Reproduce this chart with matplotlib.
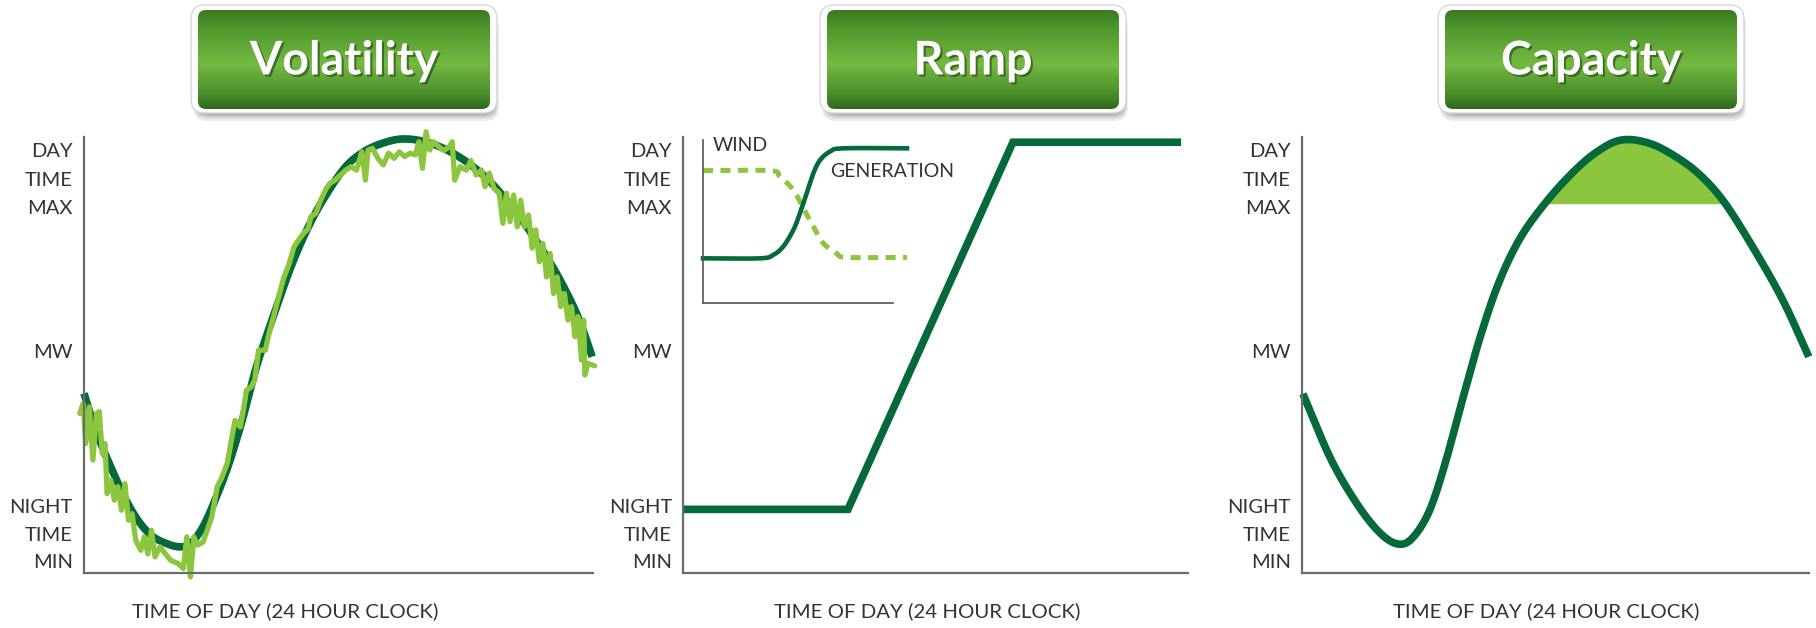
import numpy as np
import matplotlib
matplotlib.use("Agg")
import matplotlib.pyplot as plt
from matplotlib.patches import FancyBboxPatch
from matplotlib.colors import LinearSegmentedColormap
import matplotlib.patheffects as pe

# ---- data (x in hours of day, y as share of the MW range) ----
titles = ["Volatility", "Ramp", "Capacity"]
x_label = "TIME OF DAY (24 HOUR CLOCK)"
top_labels = ["DAY", "TIME", "MAX"]
mid_label = "MW"
bottom_labels = ["NIGHT", "TIME", "MIN"]

# Volatility: smooth load curve
vol_x = [0, 0.55, 1.40, 2.24, 3.08, 3.92, 4.60, 5.10, 5.61, 6.11, 6.78, 7.46,
         8.13, 8.97, 9.82, 10.66, 11.50, 12.34, 13.18, 14.03, 14.87, 15.71,
         16.55, 17.39, 18.24, 19.08, 19.92, 20.76, 21.61, 22.45, 23.29, 23.96]
vol_y = [0.412, 0.328, 0.228, 0.144, 0.090, 0.067, 0.060, 0.071, 0.106, 0.159,
         0.243, 0.350, 0.473, 0.595, 0.710, 0.802, 0.874, 0.932, 0.966, 0.985,
         0.995, 0.993, 0.982, 0.963, 0.936, 0.901, 0.855, 0.802, 0.741, 0.672,
         0.588, 0.496]

# Volatility: noisy wind-affected curve
noisy_x = [-0.20, -0.04, 0.08, 0.25, 0.42, 0.59, 0.72, 0.86, 0.99, 1.09, 1.26,
           1.43, 1.60, 1.77, 1.93, 2.10, 2.27, 2.44, 2.68, 2.84, 3.01, 3.18,
           3.35, 3.58, 3.84, 4.09, 4.43, 4.68, 4.85, 5.02, 5.18, 5.35, 5.61,
           5.81, 6.03, 6.28, 6.48, 6.75, 6.95, 7.12, 7.37, 7.54, 7.66, 7.88,
           8.05, 8.23, 8.55, 8.72, 8.94, 9.18, 9.41, 9.65, 9.90, 10.12, 10.35,
           10.57, 10.69, 10.93, 11.16, 11.42, 11.60, 11.84, 12.09, 12.34,
           12.59, 12.85, 13.10, 13.27, 13.39, 13.60, 13.86, 14.11, 14.36,
           14.62, 14.87, 15.12, 15.37, 15.63, 15.79, 15.96, 16.13, 16.30,
           16.47, 16.72, 16.97, 17.23, 17.36, 17.48, 17.73, 18.03, 18.24,
           18.49, 18.74, 18.91, 19.11, 19.33, 19.58, 19.75, 19.92, 20.09,
           20.26, 20.43, 20.59, 20.76, 20.96, 21.13, 21.30, 21.47, 21.64,
           21.81, 21.98, 22.14, 22.31, 22.48, 22.65, 22.82, 22.99, 23.15,
           23.29, 23.46, 23.56, 23.62, 23.76, 24.08]
noisy_y = [0.366, 0.389, 0.297, 0.381, 0.259, 0.366, 0.370, 0.274, 0.297, 0.182,
           0.213, 0.167, 0.198, 0.144, 0.205, 0.121, 0.136, 0.075, 0.052, 0.083,
           0.044, 0.098, 0.037, 0.060, 0.044, 0.029, 0.022, 0.010, 0.083, -0.009,
           0.083, 0.064, 0.071, 0.098, 0.129, 0.198, 0.217, 0.251, 0.305, 0.350,
           0.335, 0.381, 0.419, 0.427, 0.442, 0.511, 0.511, 0.549, 0.588, 0.634,
           0.676, 0.706, 0.748, 0.764, 0.779, 0.790, 0.817, 0.825, 0.855, 0.882,
           0.894, 0.901, 0.913, 0.924, 0.932, 0.924, 0.966, 0.901, 0.970, 0.974,
           0.951, 0.936, 0.963, 0.951, 0.966, 0.955, 0.963, 0.959, 0.989, 0.928,
           1.012, 0.970, 0.989, 0.978, 0.969, 0.978, 0.989, 0.901, 0.932, 0.924,
           0.946, 0.913, 0.924, 0.886, 0.917, 0.882, 0.871, 0.802, 0.871, 0.806,
           0.867, 0.794, 0.855, 0.794, 0.821, 0.745, 0.787, 0.714, 0.756, 0.679,
           0.733, 0.641, 0.679, 0.611, 0.641, 0.580, 0.611, 0.542, 0.588, 0.488,
           0.580, 0.454, 0.481, 0.475]

# Ramp: net load ramp
ramp_x = [0, 7.84, 15.68, 23.67]
ramp_y = [0.146, 0.146, 0.988, 0.988]

# Ramp inset (share of inset width / height)
gen_x = [0, 0.279, 0.344, 0.393, 0.443, 0.475, 0.508, 0.541, 0.574, 0.623,
         0.688, 1.0]
gen_y = [0.274, 0.274, 0.295, 0.346, 0.448, 0.550, 0.673, 0.796, 0.877, 0.929,
         0.949, 0.949]
wind_x = [0, 0.328, 0.377, 0.443, 0.492, 0.541, 0.590, 0.655, 0.706, 1.0]
wind_y = [0.812, 0.812, 0.775, 0.693, 0.581, 0.468, 0.366, 0.304, 0.280, 0.280]

# Capacity: load curve and peak capacity level
cap_x = [0.04, 1.41, 2.78, 3.87, 4.70, 5.35, 6.06, 6.78, 7.60, 8.42, 9.30,
         10.29, 11.44, 12.70, 13.90, 15.11, 16.48, 17.85, 18.95, 20.04, 21.42,
         22.78, 23.99]
cap_y = [0.411, 0.257, 0.146, 0.084, 0.066, 0.087, 0.146, 0.252, 0.398, 0.539,
         0.664, 0.765, 0.844, 0.913, 0.964, 0.993, 0.985, 0.950, 0.908, 0.847,
         0.741, 0.624, 0.496]
cap_level = 0.847

DARK = "#05693a"
LIGHT = "#8cc63f"
AXIS = "#6b6b6b"
TEXT = "#333333"
FONT = ["Lato", "DejaVu Sans"]

W, H = 1816, 628
fig = plt.figure(figsize=(W / 100, H / 100), dpi=100)
fig.patch.set_facecolor("white")


def px_axes(left, top, right, bottom, zorder=1):
    return fig.add_axes([left / W, 1 - bottom / H, (right - left) / W, (bottom - top) / H],
                        zorder=zorder)


def smooth(x, y, n=16):
    # catmull-rom through the traced points, just for drawing
    x = np.asarray(x, float)
    y = np.asarray(y, float)
    px = np.concatenate([[2 * x[0] - x[1]], x, [2 * x[-1] - x[-2]]])
    py = np.concatenate([[2 * y[0] - y[1]], y, [2 * y[-1] - y[-2]]])
    t = np.linspace(0, 1, n, endpoint=False)[:, None]
    out = []
    for p in (px, py):
        p0, p1, p2, p3 = p[:-3], p[1:-2], p[2:-1], p[3:]
        seg = 0.5 * ((2 * p1) + (-p0 + p2) * t + (2 * p0 - 5 * p1 + 4 * p2 - p3) * t ** 2
                     + (-p0 + 3 * p1 - 3 * p2 + p3) * t ** 3)
        out.append(np.concatenate([seg.T.ravel(), [p[-2]]]))
    return out


def setup_panel(ax, xlab_pos):
    ax.set_xlim(0, 24)
    ax.set_ylim(0, 1)
    ax.set_xticks([])
    ax.set_yticks([])
    for s in ["top", "right"]:
        ax.spines[s].set_visible(False)
    for s in ["left", "bottom"]:
        ax.spines[s].set_color(AXIS)
        ax.spines[s].set_linewidth(1.6)
    ax.patch.set_alpha(0)
    kw = dict(transform=ax.transAxes, ha="right", va="center", fontsize=14.5,
              color=TEXT, family=FONT)
    for lab, yy in zip(top_labels, [0.966, 0.901, 0.837]):
        ax.text(-0.022, yy, lab, **kw)
    ax.text(-0.022, 0.505, mid_label, **kw)
    for lab, yy in zip(bottom_labels, [0.151, 0.087, 0.023]):
        ax.text(-0.022, yy, lab, **kw)
    ax.text(xlab_pos, -0.087, x_label, transform=ax.transAxes, ha="center",
            va="center", fontsize=14.7, color=TEXT, family=FONT)


# ---- Volatility ----
ax1 = px_axes(84, 137, 593, 573)
setup_panel(ax1, 0.395)
sx, sy = smooth(vol_x, vol_y)
ax1.plot(sx, sy, color=DARK, lw=5.5, solid_capstyle="butt", clip_on=False)
ax1.plot(noisy_x, noisy_y, color=LIGHT, lw=3.8, solid_joinstyle="round",
         solid_capstyle="round", clip_on=False)

# ---- Ramp ----
ax2 = px_axes(683, 137, 1188, 573)
setup_panel(ax2, 0.483)
ax2.plot(ramp_x, ramp_y, color=DARK, lw=5.5, solid_joinstyle="miter",
         solid_capstyle="butt", clip_on=False)

ins = px_axes(703, 140, 907, 303, zorder=2)
ins.set_xlim(0, 1)
ins.set_ylim(0, 1)
ins.set_xticks([])
ins.set_yticks([])
ins.patch.set_alpha(0)
for s in ["top", "right"]:
    ins.spines[s].set_visible(False)
for s in ["left", "bottom"]:
    ins.spines[s].set_color("#555555")
    ins.spines[s].set_linewidth(1.2)
ins.spines["bottom"].set_bounds(0, 0.93)
gx, gy = smooth(gen_x, gen_y)
wx, wy = smooth(wind_x, wind_y)
ins.plot(wx, wy, color=LIGHT, lw=3.6, linestyle=(0, (2.0, 1.5)),
         dash_capstyle="butt", clip_on=False)
ins.plot(gx, gy, color=DARK, lw=3.3, clip_on=False)
ins.text(0.05, 0.965, "WIND", transform=ins.transAxes, ha="left", va="center",
         fontsize=14, color=TEXT, family=FONT)
ins.text(0.623, 0.804, "GENERATION", transform=ins.transAxes, ha="left",
         va="center", fontsize=14, color=TEXT, family=FONT)

# ---- Capacity ----
ax3 = px_axes(1302, 137, 1809, 573)
setup_panel(ax3, 0.481)
cx, cy = smooth(cap_x, cap_y)
ax3.fill_between(cx, cy, cap_level, where=cy >= cap_level, interpolate=True,
                 color=LIGHT, lw=0, zorder=1)
ax3.plot(cx, cy, color=DARK, lw=5.5, solid_capstyle="butt", clip_on=False, zorder=2)

# ---- title badges ----
over = fig.add_axes([0, 0, 1, 1], zorder=5)
over.axis("off")
over.patch.set_alpha(0)

grad = LinearSegmentedColormap.from_list(
    "badge", [(0, "#3a7a22"), (0.18, "#4f982d"), (0.55, "#74b942"),
              (0.85, "#4a8e2a"), (1.0, "#2f6a1d")])

for title, cxp in zip(titles, [344, 973, 1591]):
    bw, top, bot = 306, 5, 113
    x0 = cxp - bw / 2
    # drop shadow
    for k, a in enumerate([0.10, 0.12, 0.16, 0.22]):
        off = 8 - 2 * k
        sh = FancyBboxPatch((x0 + 2 + k, top + off), bw - 2 * k, bot - top,
                            boxstyle="round,pad=0,rounding_size=14",
                            fc="#5e5650", ec="none", alpha=a, zorder=1)
        over.add_patch(sh)
    outer = FancyBboxPatch((x0, top), bw, bot - top,
                           boxstyle="round,pad=0,rounding_size=14",
                           fc="white", ec="#d8d8d8", lw=1, zorder=2)
    over.add_patch(outer)
    ix0, iy0, iw, ih = x0 + 7, top + 5, bw - 14, bot - top - 9
    inner = FancyBboxPatch((ix0, iy0), iw, ih,
                           boxstyle="round,pad=0,rounding_size=8",
                           fc="none", ec="none", zorder=3)
    over.add_patch(inner)
    im = over.imshow(np.linspace(0, 1, 100)[:, None], cmap=grad, aspect="auto",
                     extent=[ix0, ix0 + iw, iy0 + ih, iy0], interpolation="bilinear",
                     zorder=3)
    im.set_clip_path(inner)
    over.text(cxp, iy0 + ih / 2 + 1, title, ha="center", va="center", fontsize=33.5,
              fontweight="bold", color="white", family=FONT, zorder=4,
              path_effects=[pe.SimplePatchShadow(offset=(1.5, -1.5),
                                                 shadow_rgbFace="#1c4410", alpha=0.6),
                            pe.Normal()])
over.set_xlim(0, W)
over.set_ylim(H, 0)

fig.savefig("out.png", dpi=100, facecolor="white")
